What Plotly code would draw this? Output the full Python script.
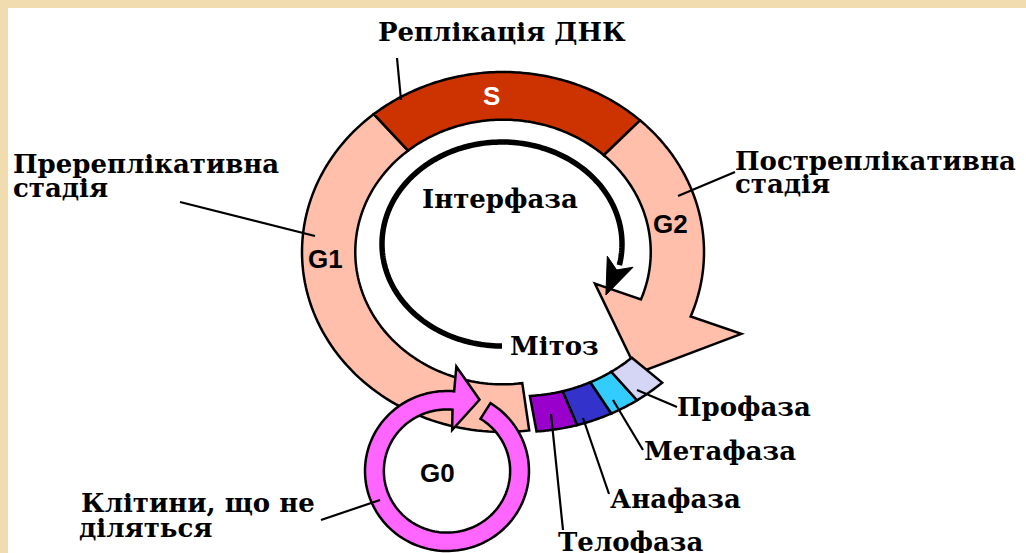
import numpy as np
import plotly.graph_objects as go

W, H = 1026, 553

# ---------------- data ----------------
# interphase phases: name, start angle, end angle (degrees on the main ring)
phase_names = ["G1", "S", "G2"]
phase_start = [130.0, 47.0, -21.0]
phase_end = [277.5, 130.0, 47.0]
phase_colors = ["#FFBFAB", "#CC3300", "#FFBFAB"]

# mitosis sub-phases (clockwise order of the ring bottom)
mitosis_names = ["Телофаза", "Анафаза", "Метафаза", "Профаза"]
mitosis_bounds = [-80.5, -69.0, -59.0, -51.0, -42.5]
mitosis_colors = ["#9900CC", "#3333CC", "#33CCFF", "#D5D5F5"]

ring_labels = ["S", "G1", "G2", "G0"]
title_label = "Реплікація ДНК"
pre_label = ["Пререплікативна", "стадія"]
post_label = ["Постреплікативна", "стадія"]
inter_label = "Інтерфаза"
mitos_label = "Мітоз"
g0_label = ["Клітини, що не", "діляться"]

# ---------------- geometry ----------------
CX, CY, A, B = 503.0, 252.0, 201.0, 180.0     # main ring outer ellipse
S_IN = 0.735
ICX, ICY, IA, IB = 502.0, 244.0, 120.0, 102.0  # inner black arrow
GCX, GCY, GA, GB = 447.0, 471.0, 82.0, 80.0    # G0 ring
G_IN = 0.77


def ell(cx, cy, a, b, t, s=1.0):
    t = np.radians(np.asarray(t, dtype=float))
    return cx + s * a * np.cos(t), cy - s * b * np.sin(t)


def path_of(pts, close=True):
    d = "M " + " L ".join(f"{x:.2f},{y:.2f}" for x, y in pts)
    return d + (" Z" if close else "")


def arc_pts(cx, cy, a, b, t0, t1, s, n=90):
    ts = np.linspace(t0, t1, n)
    x, y = ell(cx, cy, a, b, ts, s)
    return list(zip(x, y))


def band(cx, cy, a, b, t0, t1, s_in, s_out):
    return arc_pts(cx, cy, a, b, t0, t1, s_out) + arc_pts(cx, cy, a, b, t1, t0, s_in)


def m_in(t):   # mitosis band drifts slightly outward to the right
    return np.interp(t, [-81, -42], [0.81, 0.87])


def m_out(t):
    return np.interp(t, [-81, -42], [1.01, 1.075])


def mband(t0, t1, n=30):
    ts = np.linspace(t0, t1, n)
    xo, yo = ell(CX, CY, A, B, ts, m_out(ts))
    xi, yi = ell(CX, CY, A, B, ts[::-1], m_in(ts[::-1]))
    return list(zip(xo, yo)) + list(zip(xi, yi))


shapes = []
OUT = dict(color="black", width=2.5)

# white card on beige
shapes.append(dict(type="rect", x0=8, y0=8, x1=W + 5, y1=H + 5,
                   fillcolor="white", line=dict(width=0), layer="below"))

# G1
shapes.append(dict(type="path", path=path_of(band(CX, CY, A, B, phase_start[0], phase_end[0], S_IN, 1.0)),
                   fillcolor=phase_colors[0], line=OUT))
# S
shapes.append(dict(type="path", path=path_of(band(CX, CY, A, B, phase_start[1], phase_end[1], S_IN, 1.0)),
                   fillcolor=phase_colors[1], line=OUT))
# G2 with arrow head
g2 = arc_pts(CX, CY, A, B, phase_end[2], phase_start[2], 1.0)
head = [ell(CX, CY, A, B, -21, 1.27), ell(CX, CY, A, B, -45, 0.95), ell(CX, CY, A, B, -21, 0.49)]
g2 += [tuple(p) for p in head]
g2 += arc_pts(CX, CY, A, B, phase_start[2], phase_end[2], S_IN)
shapes.append(dict(type="path", path=path_of(g2), fillcolor=phase_colors[2], line=OUT))

# mitosis blocks
for i in range(4):
    shapes.append(dict(type="path", path=path_of(mband(mitosis_bounds[i], mitosis_bounds[i + 1])),
                       fillcolor=mitosis_colors[i], line=OUT))

# inner black arc + arrow head
shapes.append(dict(type="path", path=path_of(arc_pts(ICX, ICY, IA, IB, 270, -12, 1.0, 200), close=False),
                   line=dict(color="black", width=5.5)))
bx, by = ell(ICX, ICY, IA, IB, -10)
tx, ty = ell(ICX, ICY, IA, IB, -30)
dx, dy = tx - bx, ty - by
L = np.hypot(dx, dy)
ux, uy = dx / L, dy / L
px, py = -uy, ux
hw = 14
arrow = [(tx, ty), (bx + px * hw, by + py * hw), (bx + ux * 9, by + uy * 9), (bx - px * hw, by - py * hw)]
shapes.append(dict(type="path", path=path_of(arrow), fillcolor="black", line=dict(color="black", width=1)))

# G0 ring with arrow head
g0 = arc_pts(GCX, GCY, GA, GB, 418, 85, 1.0, 160)
g0 += [tuple(ell(GCX, GCY, GA, GB, 85, 1.31)), tuple(ell(GCX, GCY, GA, GB, 66, 0.975)),
       tuple(ell(GCX, GCY, GA, GB, 83, 0.516))]
g0 += arc_pts(GCX, GCY, GA, GB, 85, 418, G_IN, 160)
shapes.append(dict(type="path", path=path_of(g0), fillcolor="#FF66FF", line=OUT))

# leader lines
leaders = [((397, 58), (401, 100)), ((180, 202), (315, 236)), ((735, 172), (678, 196)),
           ((637, 390), (677, 407)), ((613, 400), (643, 450)), ((583, 418), (609, 494)),
           ((551, 414), (563, 530)), ((321, 520), (380, 500))]
for (x0, y0), (x1, y1) in leaders:
    shapes.append(dict(type="line", x0=x0, y0=y0, x1=x1, y1=y1, line=dict(color="black", width=2.2)))

# ---------------- text ----------------
SERIF = "DejaVu Serif"
SANS = "Liberation Sans"
ann = []
FS = 26


def txt(s, x, y, size=FS, xanchor="left", color="black", family=SERIF):
    ann.append(dict(text=f"<b>{s}</b>", x=x, y=y, xref="x", yref="y", showarrow=False,
                    xanchor=xanchor, yanchor="middle",
                    font=dict(family=family, size=size, color=color)))


txt(title_label, 502, 32, xanchor="center")
txt(pre_label[0], 11, 164)
txt(pre_label[1], 11, 188)
txt(post_label[0], 733, 161)
txt(post_label[1], 733, 184)
txt(inter_label, 500, 199, xanchor="center")
txt(mitos_label, 508, 346)
txt(mitosis_names[3], 675, 407)
txt(mitosis_names[2], 642, 451)
txt(mitosis_names[1], 608, 499)
txt(mitosis_names[0], 556, 542)
txt(g0_label[0], 79, 503)
txt(g0_label[1], 77, 528)

txt(ring_labels[0], 491, 96, size=26, xanchor="center", color="white", family=SANS)
txt(ring_labels[1], 325, 259, size=26, xanchor="center", family=SANS)
txt(ring_labels[2], 670, 224, size=26, xanchor="center", family=SANS)
txt(ring_labels[3], 437, 473, size=26, xanchor="center", family=SANS)

fig = go.Figure()
fig.update_layout(
    width=W, height=H, margin=dict(l=0, r=0, t=0, b=0),
    paper_bgcolor="#F0DCAE", plot_bgcolor="rgba(0,0,0,0)",
    xaxis=dict(range=[0, W], visible=False, fixedrange=True),
    yaxis=dict(range=[H, 0], visible=False, fixedrange=True),
    shapes=shapes, annotations=ann, showlegend=False,
)
fig.write_html("out.html", config={"displayModeBar": False},
               post_script="document.body.style.margin='0';document.body.style.overflow='hidden';")
